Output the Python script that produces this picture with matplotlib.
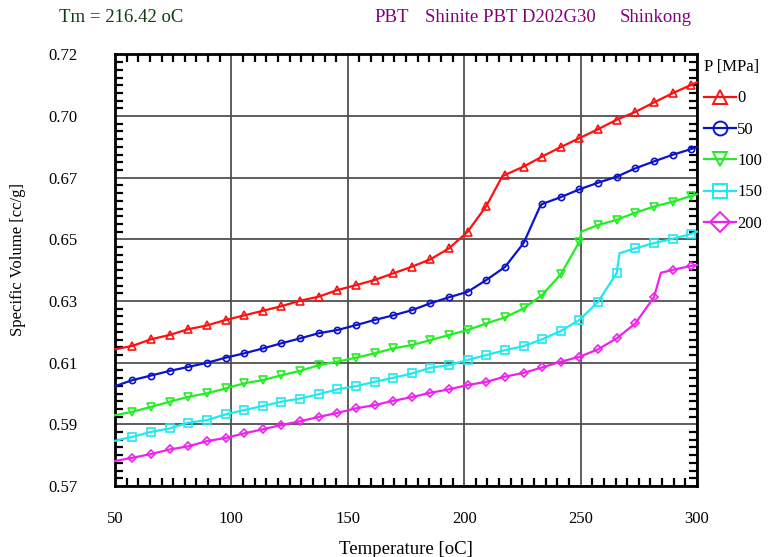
import matplotlib
matplotlib.use("Agg")
import matplotlib.pyplot as plt
from matplotlib.lines import Line2D
from matplotlib.ticker import FixedLocator, AutoMinorLocator

# ---------------- data ----------------
pressures = ["0", "50", "100", "150", "200"]
t_start = 50.0
t_end = 300.0
mark_T = [57.5, 65.5, 73.5, 81.5, 89.5, 97.5, 105.5, 113.5, 121.5, 129.5,
          137.5, 145.5, 153.5, 161.5, 169.5, 177.5, 185.5, 193.5, 201.5, 209.5,
          217.5, 225.5, 233.5, 241.5, 249.5, 257.5, 265.5, 273.5, 281.5, 289.5,
          297.5]

v0_start, v0_end = 0.6175, 0.7103
v0 = [0.6187, 0.6210, 0.6225, 0.6245, 0.6258, 0.6277, 0.6293, 0.6309, 0.6325, 0.6344,
      0.6358, 0.6381, 0.6398, 0.6416, 0.6439, 0.6462, 0.6488, 0.6526, 0.6584, 0.6673,
      0.6781, 0.6810, 0.6845, 0.6878, 0.6909, 0.6940, 0.6973, 0.7000, 0.7033, 0.7065,
      0.7094]
kink0 = (216.4, 0.6777)

v50_start, v50_end = 0.6047, 0.6878
v50 = [0.6068, 0.6084, 0.6100, 0.6114, 0.6128, 0.6146, 0.6161, 0.6178, 0.6196, 0.6213,
       0.6231, 0.6242, 0.6259, 0.6277, 0.6293, 0.6311, 0.6335, 0.6356, 0.6375, 0.6416,
       0.6461, 0.6544, 0.6680, 0.6704, 0.6731, 0.6754, 0.6775, 0.6804, 0.6828, 0.6851,
       0.6871]
kink50 = (232.6, 0.6672)

v100_start, v100_end = 0.5946, 0.6714
v100 = [0.5958, 0.5975, 0.5993, 0.6010, 0.6022, 0.6039, 0.6057, 0.6068, 0.6085, 0.6100,
        0.6120, 0.6132, 0.6146, 0.6161, 0.6178, 0.6190, 0.6207, 0.6225, 0.6242, 0.6265,
        0.6286, 0.6317, 0.6364, 0.6436, 0.6549, 0.6607, 0.6625, 0.6650, 0.6671, 0.6688,
        0.6708]
kink100 = (250.3, 0.6584)

v150_start, v150_end = 0.5857, 0.6584
v150 = [0.5871, 0.5888, 0.5900, 0.5920, 0.5929, 0.5949, 0.5964, 0.5978, 0.5993, 0.6004,
        0.6019, 0.6036, 0.6047, 0.6062, 0.6076, 0.6091, 0.6111, 0.6120, 0.6138, 0.6155,
        0.6172, 0.6186, 0.6210, 0.6239, 0.6277, 0.6340, 0.6440, 0.6526, 0.6544, 0.6559,
        0.6576]
kink150 = (266.7, 0.6509)

v200_start, v200_end = 0.5787, 0.6468
v200 = [0.5798, 0.5811, 0.5827, 0.5838, 0.5856, 0.5867, 0.5883, 0.5897, 0.5912, 0.5925,
        0.5940, 0.5954, 0.5970, 0.5981, 0.5996, 0.6009, 0.6024, 0.6036, 0.6051, 0.6062,
        0.6080, 0.6093, 0.6112, 0.6132, 0.6149, 0.6175, 0.6213, 0.6265, 0.6356, 0.6451,
        0.6465]
kink200 = (284.5, 0.6441)

x_ticks = [50, 100, 150, 200, 250, 300]
y_min, y_max = 0.57, 0.72
y_tick_labels = ["0.57", "0.59", "0.61", "0.63", "0.65", "0.67", "0.70", "0.72"]

series = [
    (pressures[0], v0_start, v0, kink0, v0_end, "#ff1010", "^"),
    (pressures[1], v50_start, v50, kink50, v50_end, "#0a14c8", "o"),
    (pressures[2], v100_start, v100, kink100, v100_end, "#22ee22", "v"),
    (pressures[3], v150_start, v150, kink150, v150_end, "#20e8f0", "s"),
    (pressures[4], v200_start, v200, kink200, v200_end, "#ee22ee", "D"),
]

# ---------------- figure ----------------
plt.rcParams["font.family"] = ["Liberation Serif", "DejaVu Serif"]
fig = plt.figure(figsize=(7.71, 5.57), dpi=100)
ax = fig.add_axes([115 / 771, 1 - 486 / 557, (697 - 115) / 771, (486 - 54.4) / 557])

handles = []
for label, vs, vm, kink, ve, color, mk in series:
    pts = [(t_start, vs)] + list(zip(mark_T, vm)) + [kink, (t_end, ve)]
    pts.sort(key=lambda p: p[0])
    xs = [p[0] for p in pts]
    ys = [p[1] for p in pts]
    mark_idx = [i for i, p in enumerate(pts) if p[0] in mark_T]
    ms = 4.5 if mk in ("o", "D") else 5.5
    ax.plot(xs, ys, color=color, lw=1.6, marker=mk, markevery=mark_idx,
            markersize=ms, markerfacecolor="none", markeredgecolor=color,
            markeredgewidth=1.2, zorder=3, clip_on=False)
    handles.append(Line2D([0], [0], color=color, lw=1.6, marker=mk, markersize=10,
                          markerfacecolor="none", markeredgecolor=color,
                          markeredgewidth=1.4, label=label))

ax.set_xlim(50, 300)
ax.set_ylim(y_min, y_max)
ax.set_xticks(x_ticks)
ax.set_xticklabels([str(t) for t in x_ticks])
y_ticks = [y_min + i * (y_max - y_min) / 7 for i in range(8)]
ax.yaxis.set_major_locator(FixedLocator(y_ticks))
ax.set_yticklabels(y_tick_labels)
ax.xaxis.set_minor_locator(AutoMinorLocator(10))
ax.yaxis.set_minor_locator(AutoMinorLocator(8))

ax.grid(True, which="major", color="#505050", lw=1.3, zorder=1)
ax.tick_params(which="both", direction="in", top=True, right=True, color="black")
ax.tick_params(which="major", length=0, labelsize=12, pad=27)
ax.tick_params(axis="x", which="major", pad=18)
ax.tick_params(which="minor", length=6, width=1.6)
for s in ax.spines.values():
    s.set_linewidth(2.0)
    s.set_color("black")

ax.set_xlabel("Temperature [oC]", fontsize=13.5, labelpad=10)
ax.set_ylabel("Specific Volume [cc/g]", fontsize=12)
ax.yaxis.set_label_coords(-(115 - 26) / 582, 0.524)

title_y = 1 - 17 / 557
fig.text(59 / 771, title_y, "Tm = 216.42 oC", color="#0d3d0d", fontsize=13.5,
         va="center", ha="left")
fig.text(374 / 771, title_y, "PBT", color="#800080", fontsize=13.5, va="center", ha="left")
fig.text(425 / 771, title_y, "Shinite PBT D202G30", color="#800080", fontsize=13.5,
         va="center", ha="left")
fig.text(620 / 771, title_y, "Shinkong", color="#800080", fontsize=13.5,
         va="center", ha="left")

leg = fig.legend(handles=handles, title="P [MPa]", loc="upper left",
                 bbox_to_anchor=(704 / 771, 1 - 59 / 557), frameon=False,
                 fontsize=12, title_fontsize=12, handlelength=1.9,
                 handletextpad=0.1, labelspacing=0.92, borderaxespad=0,
                 borderpad=0, alignment="left")

fig.savefig("out.png", dpi=100)
